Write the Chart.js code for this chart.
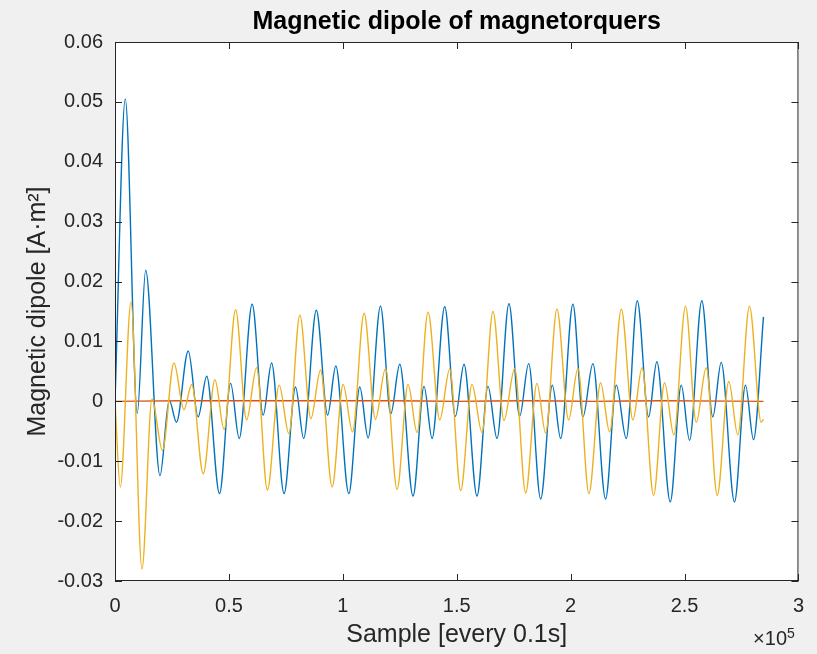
<!DOCTYPE html>
<html>
<head>
<meta charset="utf-8">
<title>Magnetic dipole of magnetorquers</title>
<script src="https://cdn.jsdelivr.net/npm/chart.js@4/dist/chart.umd.min.js"></script>
<style>
  html, body { margin: 0; padding: 0; background: #f0f0f0; }
  #chartCanvas { display: block; }
</style>
</head>
<body>
<canvas id="chartCanvas" width="817" height="654"></canvas>
<script>
const samples1 = [0, 4520, 9780, 13470, 19740, 23820, 26970, 32150, 36490, 40260,
  45880, 50750, 54520, 60220, 65040, 68730, 74210, 79250, 82810, 88380,
  93330, 96930, 102630, 107460, 111100, 116540, 121050, 125000, 130830, 135660,
  139170, 144740, 149430, 153200, 158910, 163730, 167680, 172940, 177630, 181580,
  186840, 191980, 195620, 201010, 205400, 209780, 215350, 220050, 224430, 229260,
  234210, 237850, 243730, 248560, 252200, 257590, 262410, 266100, 271930, 276760,
  280270, 284650];
const dipole1 = [0, 0.0505, -0.0020, 0.0219, -0.0124, 0.0002, -0.0035, 0.0084, -0.0026, 0.0042,
  -0.0154, 0.0030, -0.0062, 0.0162, -0.0023, 0.0064, -0.0154, 0.0024, -0.0062, 0.0152,
  -0.0023, 0.0059, -0.0154, 0.0024, -0.0061, 0.0159, -0.0021, 0.0062, -0.0158, 0.0025,
  -0.0062, 0.0158, -0.0025, 0.0062, -0.0158, 0.0025, -0.0062, 0.0163, -0.0025, 0.0063,
  -0.0163, 0.0027, -0.0062, 0.0162, -0.0026, 0.0063, -0.0163, 0.0027, -0.0062, 0.0168,
  -0.0026, 0.0066, -0.0168, 0.0027, -0.0065, 0.0168, -0.0026, 0.0065, -0.0168, 0.0027,
  -0.0064, 0.0141];

// Series 2 (red) - stays close to zero
const samples2 = [0, 30000, 60000, 90000, 120000, 150000, 180000, 210000, 240000, 284650];
const dipole2 = [0, 0.0001, 0.0001, 0.0001, 0.0001, 0.0000, 0.0001, 0.0000, 0.0001, 0.0000];

// Series 3 (yellow)
const samples3 = [0, 2320, 7020, 11840, 16230, 20830, 25880, 30260, 33680, 38730,
  43860, 47900, 52940, 57760, 62150, 66890, 72060, 76320, 81140, 85970,
  90220, 95310, 100130, 104260, 109340, 114340, 118730, 123820, 128640, 132590,
  137410, 142550, 146930, 151760, 156710, 161100, 165920, 170750, 175440, 180260,
  185220, 189040, 193990, 199120, 203200, 208030, 213160, 217110, 222240, 227330,
  231360, 236410, 241230, 245310, 250440, 255130, 259520, 264340, 269430, 273380,
  278510, 283640, 284650];
const dipole3 = [0, -0.0143, 0.0166, -0.0280, 0.0004, -0.0082, 0.0064, -0.0014, 0.0028, -0.0121,
  0.0036, -0.0047, 0.0153, -0.0031, 0.0056, -0.0148, 0.0027, -0.0054, 0.0144, -0.0029,
  0.0052, -0.0143, 0.0028, -0.0051, 0.0147, -0.0030, 0.0055, -0.0147, 0.0028, -0.0052,
  0.0149, -0.0031, 0.0054, -0.0149, 0.0028, -0.0052, 0.0150, -0.0032, 0.0055, -0.0153,
  0.0030, -0.0053, 0.0154, -0.0031, 0.0055, -0.0154, 0.0031, -0.0051, 0.0154, -0.0031,
  0.0056, -0.0157, 0.0031, -0.0056, 0.0159, -0.0035, 0.0056, -0.0157, 0.0033, -0.0056,
  0.0159, -0.0035, -0.0030];

const FONT = "'Liberation Sans', Arial, Helvetica, sans-serif";
const AXIS_COLOR = "#262626";
const TICK_LEN = 7;

const toPoints = (xs, ys) => xs.map((x, i) => ({ x: x, y: ys[i] }));

// White plot area on the grey figure
const plotBackground = {
  id: "plotBackground",
  beforeDraw(chart) {
    const { ctx, chartArea: a } = chart;
    ctx.save();
    ctx.fillStyle = "#ffffff";
    ctx.fillRect(a.left, a.top, a.right - a.left, a.bottom - a.top);
    ctx.restore();
  },
};

// Box, inward ticks on all four sides, and the x10^5 exponent
const axesBox = {
  id: "axesBox",
  afterDatasetsDraw(chart) {
    const { ctx, chartArea: a, scales } = chart;
    ctx.save();
    ctx.strokeStyle = AXIS_COLOR;
    ctx.lineWidth = 1;
    ctx.strokeRect(a.left + 0.5, a.top + 0.5, a.right - a.left - 1, a.bottom - a.top - 1);
    ctx.beginPath();
    scales.x.ticks.forEach((t) => {
      const px = Math.round(scales.x.getPixelForValue(t.value)) + 0.5;
      ctx.moveTo(px, a.bottom); ctx.lineTo(px, a.bottom - TICK_LEN);
      ctx.moveTo(px, a.top); ctx.lineTo(px, a.top + TICK_LEN);
    });
    scales.y.ticks.forEach((t) => {
      const py = Math.round(scales.y.getPixelForValue(t.value)) + 0.5;
      ctx.moveTo(a.left, py); ctx.lineTo(a.left + TICK_LEN, py);
      ctx.moveTo(a.right, py); ctx.lineTo(a.right - TICK_LEN, py);
    });
    ctx.stroke();

    ctx.fillStyle = AXIS_COLOR;
    ctx.textBaseline = "alphabetic";
    ctx.font = "20px " + FONT;
    ctx.textAlign = "right";
    ctx.fillText("\u00d710", 787, 645);
    ctx.font = "14px " + FONT;
    ctx.textAlign = "left";
    ctx.fillText("5", 787, 638);
    ctx.restore();
  },
};

const lineStyle = {
  pointRadius: 0,
  borderWidth: 1.4,
  cubicInterpolationMode: "monotone",
  fill: false,
};

new Chart(document.getElementById("chartCanvas"), {
  type: "line",
  data: {
    datasets: [
      { label: "1", data: toPoints(samples1, dipole1), borderColor: "#0072BD", order: 2, ...lineStyle },
      { label: "2", data: toPoints(samples2, dipole2), borderColor: "#D95319", order: 1, ...lineStyle },
      { label: "3", data: toPoints(samples3, dipole3), borderColor: "#EDB120", order: 0, ...lineStyle },
    ],
  },
  options: {
    responsive: false,
    animation: false,
    devicePixelRatio: 1,
    layout: { padding: { left: 0, right: 18, top: 0, bottom: 0 } },
    plugins: {
      legend: { display: false },
      tooltip: { enabled: false },
      title: {
        display: true,
        fullSize: false,
        text: "Magnetic dipole of magnetorquers",
        color: "#000000",
        font: { family: FONT, size: 25, weight: "bold" },
        padding: { top: 7, bottom: 5 },
      },
    },
    scales: {
      x: {
        type: "linear",
        min: 0,
        max: 300000,
        afterFit: (s) => { s.height = 73; },
        grid: { display: false, drawTicks: false },
        border: { display: false },
        ticks: {
          stepSize: 50000,
          padding: 13,
          maxRotation: 0,
          autoSkip: false,
          color: AXIS_COLOR,
          font: { family: FONT, size: 20 },
          callback: (v) => String(v / 1e5),
        },
        title: {
          display: true,
          text: "Sample [every 0.1s]",
          color: AXIS_COLOR,
          font: { family: FONT, size: 25 },
          padding: { top: 0, bottom: 4 },
        },
      },
      y: {
        type: "linear",
        min: -0.03,
        max: 0.06,
        afterFit: (s) => { s.width = 115; },
        grid: { display: false, drawTicks: false },
        border: { display: false },
        ticks: {
          stepSize: 0.01,
          padding: 12,
          color: AXIS_COLOR,
          font: { family: FONT, size: 20 },
          callback: (v) => (Math.abs(v) < 1e-9 ? "0" : v.toFixed(2)),
        },
        title: {
          display: true,
          text: "Magnetic dipole [A\u00b7m\u00b2]",
          color: AXIS_COLOR,
          font: { family: FONT, size: 25 },
          padding: { top: 23, bottom: 0 },
        },
      },
    },
  },
  plugins: [plotBackground, axesBox],
});
</script>
</body>
</html>
